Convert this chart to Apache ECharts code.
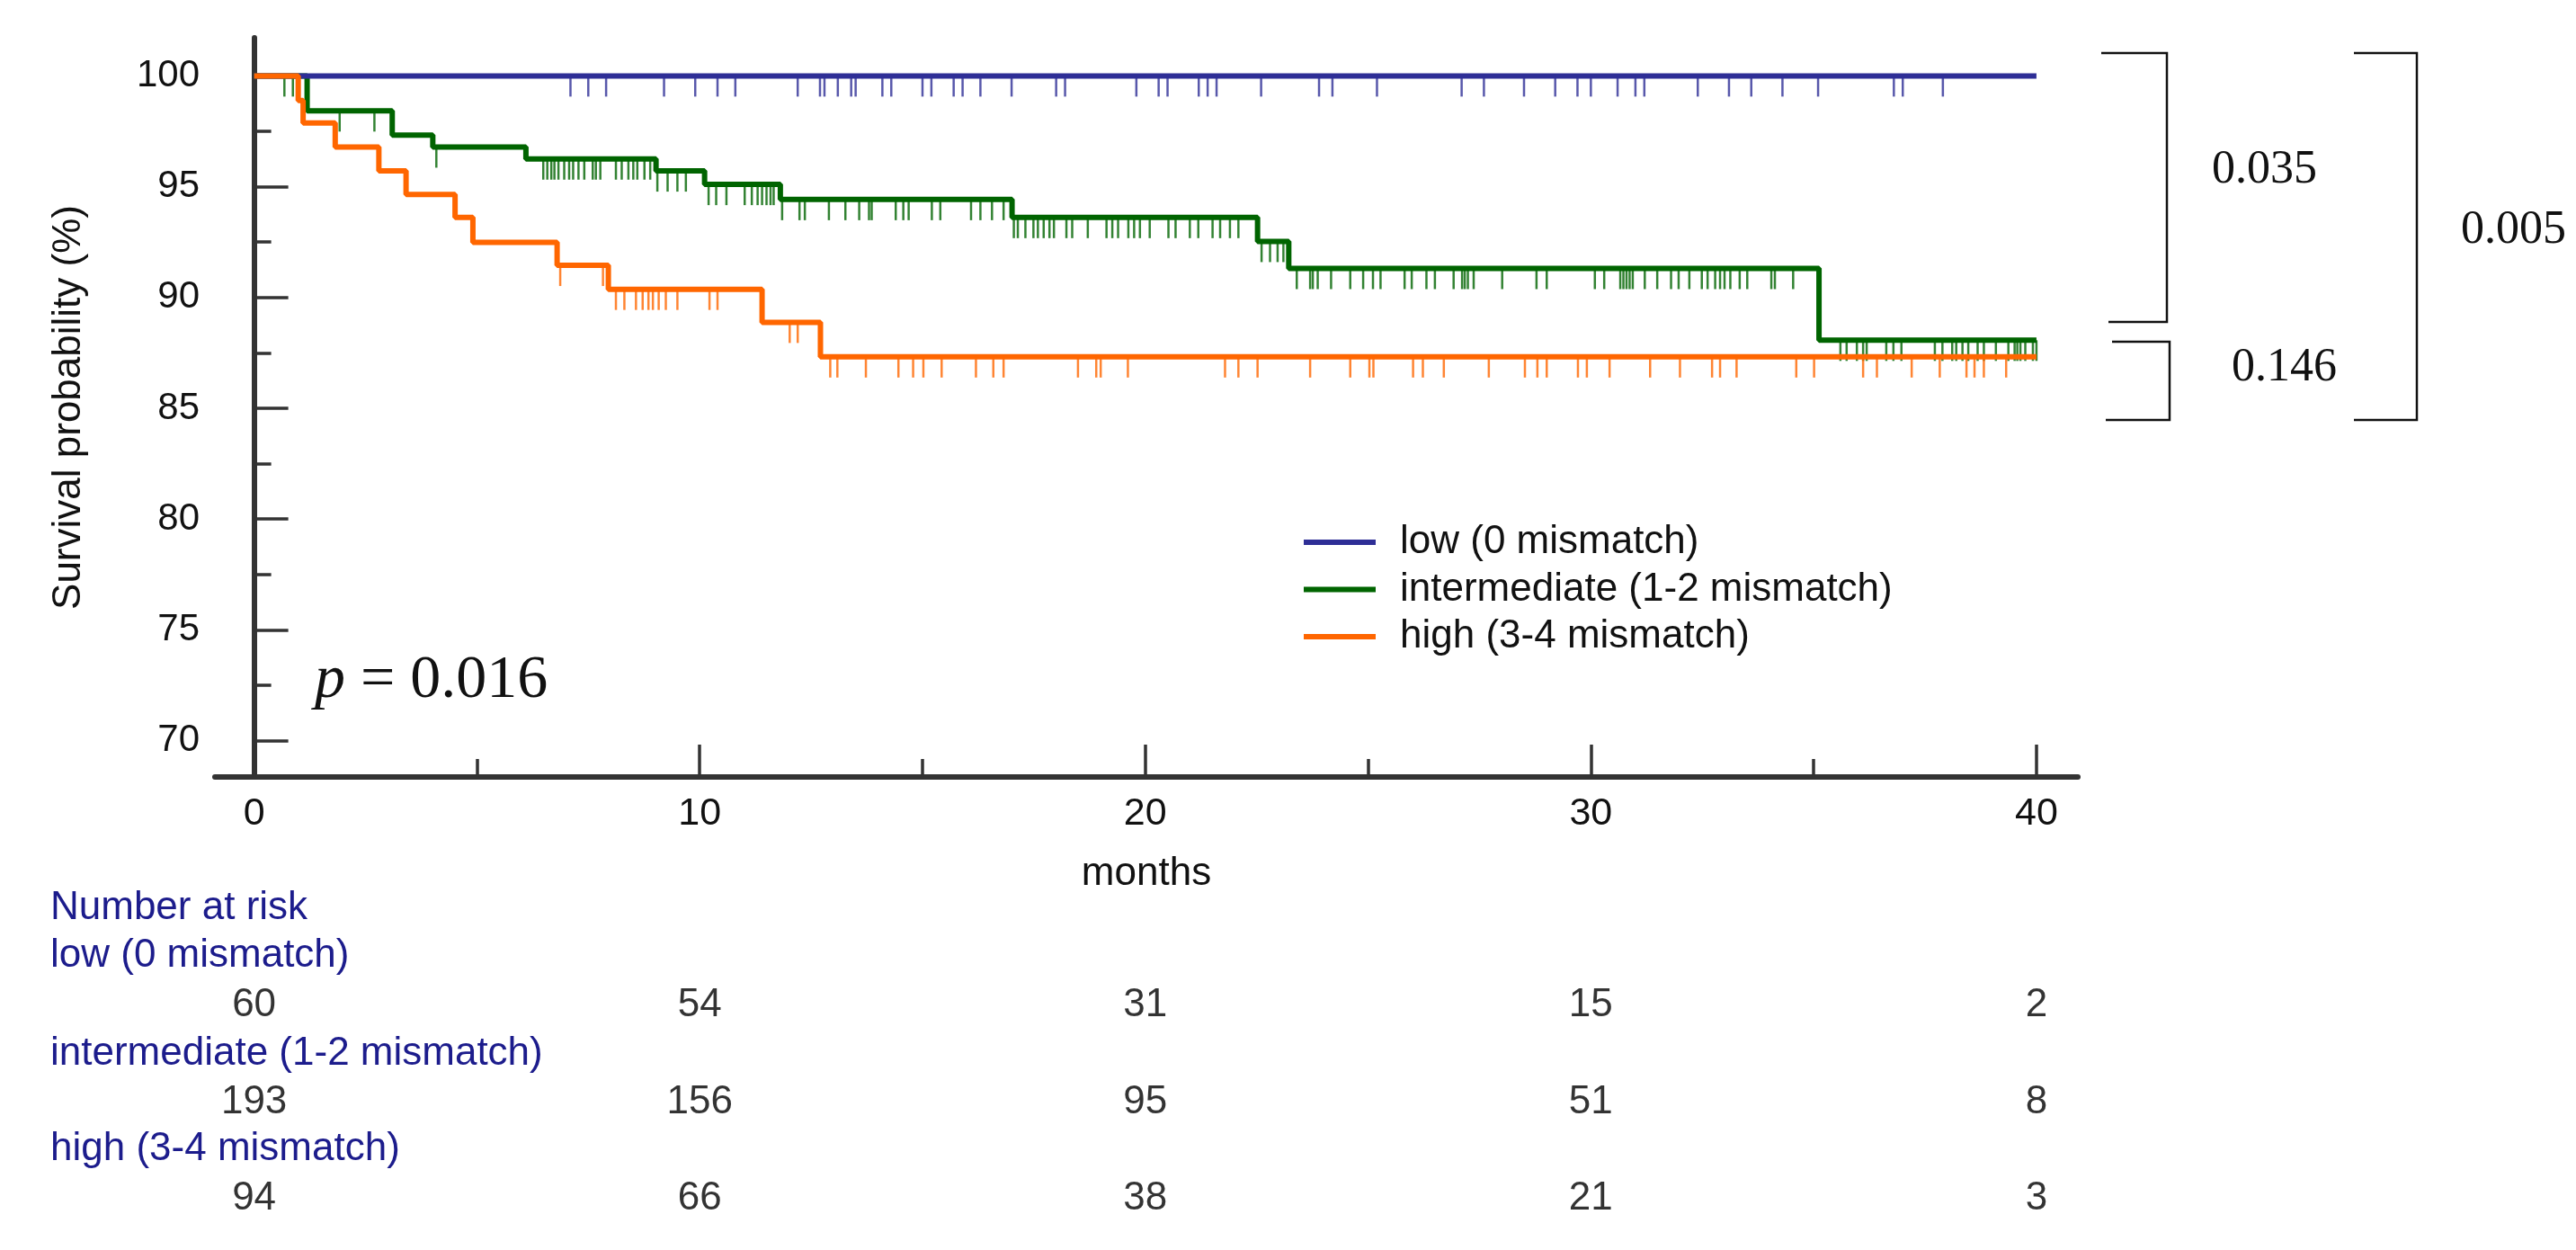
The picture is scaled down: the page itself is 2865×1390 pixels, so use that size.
<!DOCTYPE html>
<html>
<head>
<meta charset="utf-8">
<script src="https://cdn.jsdelivr.net/npm/echarts@6/dist/echarts.min.js"></script>
<style>
  html, body { margin: 0; padding: 0; background: #fff; }
  #chart { width: 2865px; height: 1390px; }
</style>
</head>
<body>
<div id="chart"></div>
<script>
// Kaplan-Meier steps (months, survival %)
const lowTimes = [0, 40];
const lowSurv = [100, 100];
const midTimes = [0, 1.19, 3.10, 4.01, 6.10, 9.02, 10.11, 11.81, 17.01, 22.52, 23.22, 35.12, 40];
const midSurv = [100, 98.42, 97.33, 96.79, 96.25, 95.71, 95.10, 94.42, 93.61, 92.53, 91.31, 88.07, 88.07];
const highTimes = [0, 0.99, 1.10, 1.82, 2.80, 3.41, 4.51, 4.91, 6.80, 7.95, 11.40, 12.71, 40];
const highSurv = [100, 98.89, 97.87, 96.79, 95.71, 94.65, 93.61, 92.49, 91.45, 90.37, 88.88, 87.32, 87.32];

// censored observations (months)
const lowCensor = [7.1, 7.5, 7.9, 9.2, 9.9, 10.4, 10.8, 12.2, 12.7, 12.8, 13.1, 13.4, 13.5, 14.1, 14.3,
  15.0, 15.2, 15.7, 15.9, 16.3, 17.0, 18.0, 18.2, 19.8, 20.3, 20.5, 21.2, 21.4, 21.6, 22.6, 23.9, 24.2,
  25.2, 27.1, 27.6, 28.5, 29.2, 29.7, 30.0, 30.6, 31.0, 31.2, 32.4, 33.1, 33.6, 34.3, 35.1, 36.8, 37.0, 37.9];
const midCensor = [0.68, 0.87, 1.92, 2.70, 4.09,
  6.49, 6.58, 6.67, 6.74, 6.83, 6.96, 7.07, 7.16, 7.28, 7.41, 7.60, 7.67, 7.77, 8.12, 8.25, 8.40, 8.51, 8.60, 8.76, 8.89,
  9.05, 9.28, 9.50, 9.69,
  10.20, 10.37, 10.60, 11.01, 11.17, 11.30, 11.40, 11.50, 11.59, 11.66,
  11.85, 12.24, 12.36, 12.9, 13.27, 13.58, 13.8, 13.86, 14.4, 14.57, 14.69, 15.21, 15.40, 16.09, 16.30, 16.56, 16.82,
  17.05, 17.14, 17.31, 17.49, 17.59, 17.72, 17.85, 17.95, 18.23, 18.36, 18.71, 19.13, 19.26, 19.39, 19.62, 19.75,
  19.88, 20.10, 20.52, 20.68, 21.0, 21.19, 21.51, 21.68, 21.90, 22.09,
  22.61, 22.80, 22.97, 23.10,
  23.40, 23.70, 23.76, 23.87, 24.17, 24.60, 24.89, 25.11, 25.28, 25.82, 25.98, 26.31, 26.50, 26.92, 27.11, 27.17,
  27.24, 27.37, 28.01, 28.78, 29.01, 30.09, 30.30, 30.66, 30.73, 30.80, 30.87, 30.94, 31.21, 31.49, 31.80, 31.97,
  32.21, 32.49, 32.62, 32.79, 32.90, 33.0, 33.13, 33.34, 33.51, 34.05, 34.13, 34.54,
  35.6, 35.74, 35.97, 36.11, 36.19, 36.63, 36.79, 36.97, 37.72, 37.89, 38.11, 38.20, 38.34, 38.47, 38.68, 38.82,
  39.09, 39.37, 39.51, 39.57, 39.64, 39.75, 39.92, 40.0];
const highCensor = [6.87, 7.83,
  8.12, 8.31, 8.57, 8.72, 8.85, 8.95, 9.08, 9.24, 9.50, 10.22, 10.40,
  12.02, 12.20,
  12.93, 13.09, 13.73, 14.46, 14.79, 15.02, 15.43, 16.20, 16.59, 16.82, 18.49, 18.90, 19.0, 19.61, 21.79, 22.09,
  22.52, 23.70, 24.60, 25.03, 25.12, 26.01, 26.23, 26.70, 27.71, 28.52, 28.80, 29.01, 29.71, 29.91, 30.42, 31.33,
  32.0, 32.72, 32.90, 33.27, 34.61, 35.01, 36.11, 36.42, 37.20, 37.83, 38.43, 38.61, 38.82, 39.32];

// number at risk
const riskTimes = [0, 10, 20, 30, 40];
const lowRisk = [60, 54, 31, 15, 2];
const midRisk = [193, 156, 95, 51, 8];
const highRisk = [94, 66, 38, 21, 3];

const groupNames = ['low (0 mismatch)', 'intermediate (1-2 mismatch)', 'high (3-4 mismatch)'];
const xTicks = [0, 10, 20, 30, 40];
const xMinorTicks = [5, 15, 25, 35];
const yTicks = [70, 75, 80, 85, 90, 95, 100];
const yMinorTicks = [72.5, 77.5, 82.5, 87.5, 92.5, 97.5];
const pOverall = '0.016';
const pPairs = ['0.035', '0.146', '0.005'];

const SANS = 'Liberation Sans, Arial, sans-serif';
const SERIF = 'Liberation Serif, Times New Roman, serif';
const colors = ['#2e2e96', '#006400', '#ff6600'];
const axisColor = '#333';
const nameBlue = '#1c1c8c';

const levelAt = (times, surv, t) => {
  let v = surv[0];
  for (let i = 0; i < times.length; i++) {
    if (times[i] <= t) v = surv[i];
  }
  return v;
};

const groups = [
  { times: lowTimes, surv: lowSurv, censor: lowCensor, risk: lowRisk },
  { times: midTimes, surv: midSurv, censor: midCensor, risk: midRisk },
  { times: highTimes, surv: highSurv, censor: highCensor, risk: highRisk }
];

const xMin = -0.88, xMax = 40.93;
const yMin = 68.36, yMax = 101.72;

const censorSeries = groups.map((g, i) => ({
  name: 'censor ' + i,
  type: 'scatter',
  xAxisIndex: 0,
  yAxisIndex: 0,
  symbol: 'rect',
  symbolSize: [2.5, 23],
  symbolOffset: [0, 11.5],
  itemStyle: { color: colors[i] },
  data: g.censor.map(t => [t, levelAt(g.times, g.surv, t)]),
  z: 2
}));

// draw order: intermediate, low, high
const lineSeries = [1, 0, 2].map(i => ({
  name: groupNames[i],
  type: 'line',
  xAxisIndex: 0,
  yAxisIndex: 0,
  step: 'end',
  symbol: 'none',
  lineStyle: { color: colors[i], width: 6 },
  itemStyle: { color: colors[i] },
  data: groups[i].times.map((t, k) => [t, groups[i].surv[k]]),
  z: 3
}));

const riskSeries = {
  name: 'risk',
  type: 'scatter',
  xAxisIndex: 2,
  yAxisIndex: 2,
  symbolSize: 1,
  itemStyle: { color: 'rgba(0,0,0,0)' },
  label: {
    show: true,
    position: 'inside',
    formatter: p => String(p.value[2]),
    color: '#000',
    fontSize: 44,
    fontFamily: SANS
  },
  data: groups.flatMap((g, row) => riskTimes.map((t, k) => [t, row, g.risk[k]]))
};

const bracket = (pts) => ({
  type: 'polyline',
  shape: { points: pts },
  style: { stroke: '#111', lineWidth: 2.5, fill: null }
});
const serifText = (text, x, y) => ({
  type: 'text', x, y,
  style: { text, font: '52px ' + SERIF, fill: '#111', verticalAlign: 'middle', align: 'left' }
});
const blueText = (text, y) => ({
  type: 'text', x: 56, y,
  style: { text, font: '44px ' + SANS, fill: nameBlue, verticalAlign: 'middle', align: 'left' }
});

const chart = echarts.init(document.getElementById('chart'));
chart.setOption({
  animation: false,
  backgroundColor: '#fff',
  grid: [
    { left: 239, top: 42, width: 2072, height: 822 },
    { left: 239, top: 1118, width: 2072, height: 215 }
  ],
  legend: {
    data: groupNames,
    orient: 'vertical',
    left: 1445,
    top: 576,
    icon: 'rect',
    itemWidth: 80,
    itemHeight: 6,
    itemGap: 8.5,
    textStyle: { fontSize: 44, fontFamily: SANS, color: '#111', padding: [0, 0, 0, 22] }
  },
  xAxis: [
    {
      gridIndex: 0, type: 'value', min: xMin, max: xMax, position: 'bottom',
      name: 'months', nameLocation: 'middle', nameGap: 86,
      nameTextStyle: { fontSize: 44, fontFamily: SANS, color: '#111' },
      axisLine: { lineStyle: { color: axisColor, width: 6 } },
      axisTick: { inside: true, length: 36, customValues: xTicks, lineStyle: { color: axisColor, width: 3.5 } },
      axisLabel: { customValues: xTicks, margin: 20, fontSize: 43, fontFamily: SANS, color: '#111' },
      splitLine: { show: false }
    },
    {
      gridIndex: 0, type: 'value', min: xMin, max: xMax, position: 'bottom',
      axisLine: { show: false },
      axisTick: { inside: true, length: 20, customValues: xMinorTicks, lineStyle: { color: axisColor, width: 3.5 } },
      axisLabel: { show: false },
      splitLine: { show: false }
    },
    {
      gridIndex: 1, type: 'value', min: xMin, max: xMax, show: false
    }
  ],
  yAxis: [
    {
      gridIndex: 0, type: 'value', min: yMin, max: yMax, position: 'left',
      name: 'Survival probability (%)', nameLocation: 'middle', nameGap: 140,
      nameTextStyle: { fontSize: 44, fontFamily: SANS, color: '#111' },
      axisLine: { show: true, lineStyle: { color: axisColor, width: 6 } },
      axisTick: { show: true, inside: true, length: 38, customValues: yTicks, lineStyle: { color: axisColor, width: 3.5 } },
      axisLabel: { customValues: yTicks, margin: 17, fontSize: 42, fontFamily: SANS, color: '#111' },
      splitLine: { show: false }
    },
    {
      gridIndex: 0, type: 'value', min: yMin, max: yMax, position: 'left',
      axisLine: { show: false },
      axisTick: { show: true, inside: true, length: 19, customValues: yMinorTicks, lineStyle: { color: axisColor, width: 3.5 } },
      axisLabel: { show: false },
      splitLine: { show: false }
    },
    {
      gridIndex: 1, type: 'value', min: 0, max: 2, inverse: true, show: false
    }
  ],
  graphic: [
    {
      type: 'text', x: 350, y: 757,
      style: {
        text: '{i|p} = ' + pOverall,
        font: '68px ' + SERIF,
        fill: '#111',
        verticalAlign: 'middle',
        rich: { i: { fontStyle: 'italic', fontSize: 68, fontFamily: SERIF, fill: '#111' } }
      }
    },
    bracket([[2337, 59], [2410, 59], [2410, 358], [2345, 358]]),
    bracket([[2349, 380], [2413, 380], [2413, 467], [2342, 467]]),
    bracket([[2618, 59], [2688, 59], [2688, 467], [2618, 467]]),
    serifText(pPairs[0], 2460, 189),
    serifText(pPairs[1], 2482, 409),
    serifText(pPairs[2], 2737, 256),
    blueText('Number at risk', 1010),
    blueText(groupNames[0], 1063),
    blueText(groupNames[1], 1172),
    blueText(groupNames[2], 1278)
  ],
  series: [...censorSeries, ...lineSeries, riskSeries]
});
</script>
</body>
</html>
